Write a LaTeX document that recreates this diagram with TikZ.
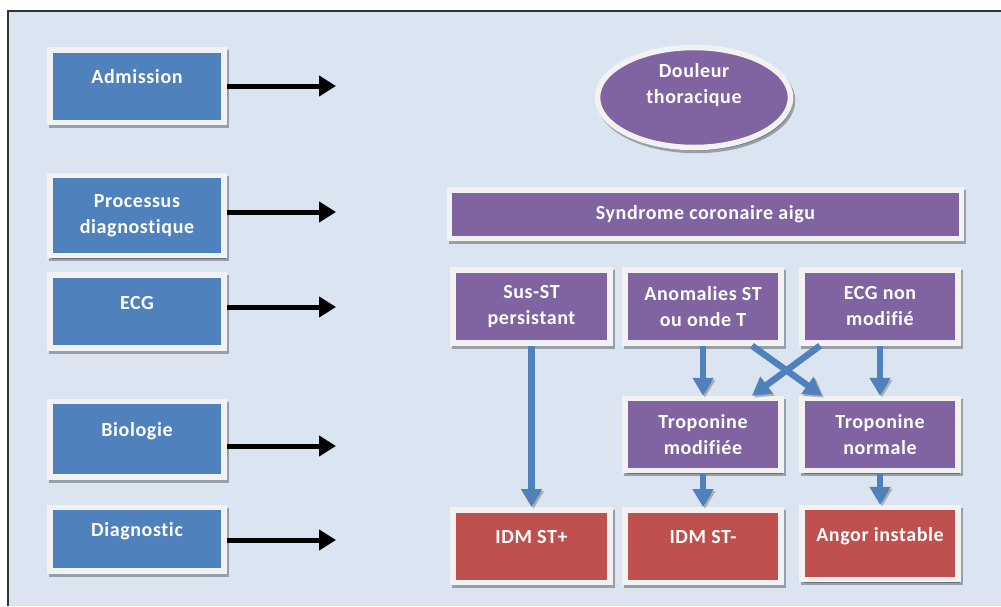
\documentclass[tikz,border=0pt]{standalone}
\usepackage{fontspec}
\setmainfont{Carlito}[LetterSpace=3, Ligatures={NoCommon,NoDiscretionary,NoRare}, Contextuals=NoAlternate]
\usetikzlibrary{arrows.meta,shadows,shapes.geometric}
\definecolor{fondbleu}{HTML}{DBE5F1}
\definecolor{bleuA}{HTML}{4F81BD}
\definecolor{mauveA}{HTML}{8064A2}
\definecolor{rougeA}{HTML}{C0504D}
\definecolor{bordA}{HTML}{F2F2F2}
\tikzset{
  boite/.style={rectangle, draw=bordA, line width=5.5pt, text=white,
    font=\fontsize{20}{26}\selectfont\bfseries, align=center, inner sep=0pt,
    drop shadow={shadow xshift=2pt, shadow yshift=-3pt, draw=black, fill=black, opacity=0.3}},
  gauche/.style={boite, fill=bleuA, minimum width=174pt},
  mauve/.style={boite, fill=mauveA, minimum width=156pt, minimum height=72pt},
  rouge/.style={boite, fill=rougeA, minimum width=156pt, minimum height=72pt},
  seul/.style={text height=14pt, text depth=19pt},
  ovale/.style={boite, ellipse, fill=mauveA, minimum width=193pt, minimum height=100pt, text depth=29pt},
  flechenoire/.style={line width=5pt, -{Triangle[length=17pt,width=20pt]}},
  flechebleue/.style={draw=bleuA, line width=6.5pt, -{Triangle[length=18pt,width=20pt]},
    preaction={draw=black!70, opacity=0.35, transform canvas={shift={(2pt,-2pt)}}}}
}
\begin{document}
\begin{tikzpicture}[x=1pt, y=-1pt]
    \useasboundingbox (0,0) rectangle (1001,606);
    \fill [fondbleu] (8,11) rectangle (1001,606);
    \draw [line width=2pt, black!80] (8,606) -- (8,11) -- (1001,11);
    \node [gauche, seul, minimum height=72.5pt] (adm) at (137,86) {Admission};
    \node [gauche, minimum height=80pt] (proc) at (137,215.5) {Processus\\diagnostique};
    \node [gauche, seul, minimum height=73pt] (ecg) at (137,311.5) {ECG};
    \node [gauche, seul, minimum height=75.5pt] (bio) at (137,439) {Biologie};
    \node [gauche, seul, minimum height=63.5pt] (diag) at (137,539) {Diagnostic};
    \coordinate (f1) at (336,86);
    \coordinate (f2) at (336,212);
    \coordinate (f3) at (336,307);
    \coordinate (f4) at (336,446);
    \coordinate (f5) at (336,540);
    \draw [flechenoire] (adm.east |- f1) -- (f1);
    \draw [flechenoire] (proc.east |- f2) -- (f2);
    \draw [flechenoire] (ecg.east |- f3) -- (f3);
    \draw [flechenoire] (bio.east |- f4) -- (f4);
    \draw [flechenoire] (diag.east |- f5) -- (f5);
    \node [ovale] (dt) at (694,97.5) {Douleur\\thoracique};
    \node [mauve, minimum width=512pt, minimum height=48.5pt] (sca) at (705.5,214) {Syndrome coronaire aigu};
    \node [mauve, minimum width=157pt, minimum height=73pt] (sus) at (531.5,306.5) {Sus-ST\\persistant};
    \node [mauve, minimum height=73pt] (anom) at (703,306.5) {Anomalies ST\\ou onde T};
    \node [mauve, minimum height=73pt] (ecgn) at (880,306.5) {ECG non\\modifié};
    \node [mauve] (tropm) at (703,434.5) {Troponine\\modifiée};
    \node [mauve] (tropn) at (880,434.5) {Troponine\\normale};
    \node [rouge, seul, minimum width=157pt, minimum height=72.5pt] (idmp) at (531.5,546) {IDM ST+};
    \node [rouge, seul, minimum height=72.5pt] (idmm) at (703,546) {IDM ST-};
    \node [rouge, seul] (angor) at (880,543.5) {Angor instable};
    \draw [flechebleue] (sus.south) -- (idmp.north);
    \draw [flechebleue] (anom.south) -- (tropm.north);
    \draw [flechebleue] (ecgn.south) -- (tropn.north);
    \draw [flechebleue] ([xshift=49pt]anom.south) -- ([xshift=-58pt]tropn.north);
    \draw [flechebleue] ([xshift=-60pt]ecgn.south) -- ([xshift=49pt]tropm.north);
    \draw [flechebleue] (tropm.south) -- (idmm.north);
    \draw [flechebleue] (tropn.south) -- (angor.north);
\end{tikzpicture}
\end{document}
